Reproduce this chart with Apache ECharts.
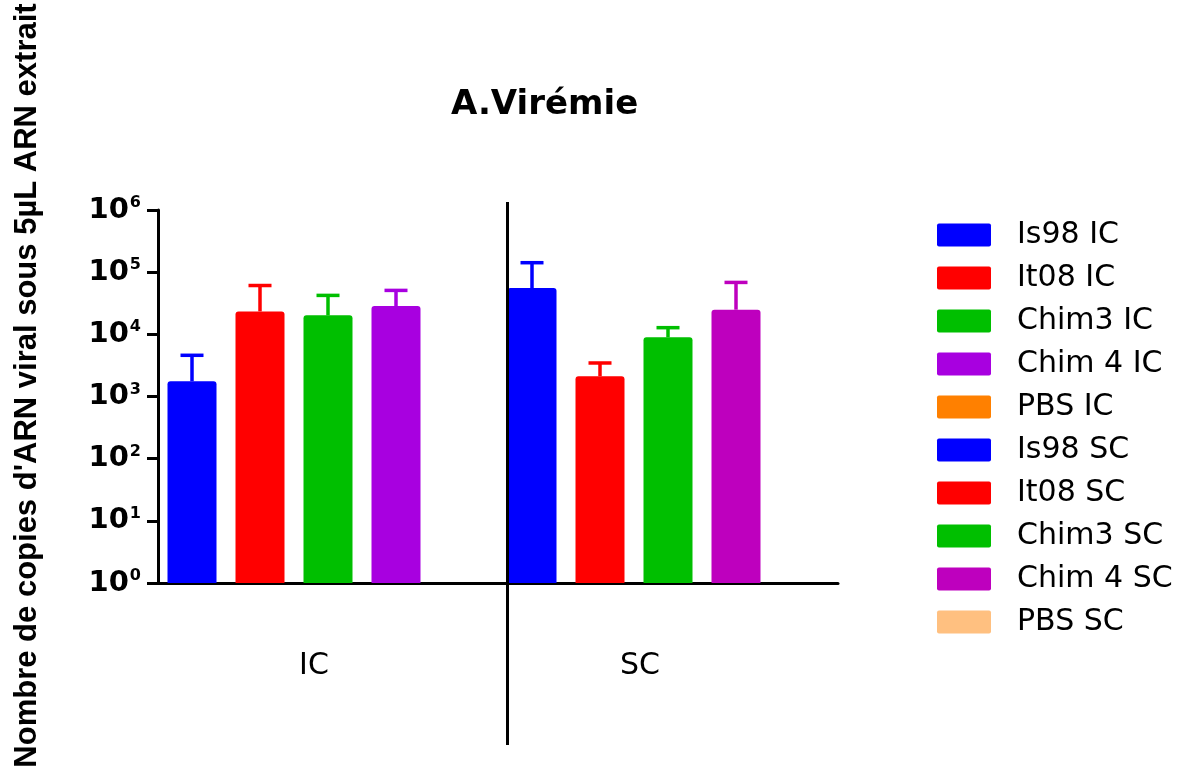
<!DOCTYPE html>
<html>
<head>
<meta charset="utf-8">
<script src="https://cdn.jsdelivr.net/npm/echarts@6/dist/echarts.min.js"></script>
<style>
html,body{margin:0;padding:0;background:#fff;}
#chart{width:1203px;height:771px;}
</style>
</head>
<body>
<div id="chart"></div>
<script>
const categories = ['Is98 IC','It08 IC','Chim3 IC','Chim 4 IC','PBS IC','Is98 SC','It08 SC','Chim3 SC','Chim 4 SC','PBS SC'];
const means = [1760, 23400, 20200, 28500, null, 55400, 2120, 8950, 24900, null];
const upper = [4600, 61000, 42300, 50900, null, 142000, 3460, 12800, 68400, null];
const colors = ['#0000FF','#FF0000','#00BF00','#A800E0','#FF8000','#0000FF','#FF0000','#00BF00','#BE00BE','#FFC080'];
const groupLabels = ['IC','SC'];
const yTicks = [0,1,2,3,4,5,6];

const chart = echarts.init(document.getElementById('chart'));

const barSeries = categories.map((name, i) => ({
  name: name,
  type: 'bar',
  barWidth: 49,
  barGap: '-100%',
  itemStyle: { color: colors[i], borderRadius: [3,3,0,0] },
  data: categories.map((c, j) => (j === i && means[i] != null) ? means[i] : '-'),
  z: 2
}));

const errData = [];
categories.forEach((c, i) => {
  if (means[i] != null) errData.push({ value: [c, means[i], upper[i]], itemStyle: { color: colors[i] } });
});

const errSeries = {
  type: 'custom',
  name: 'err',
  data: errData,
  z: 3,
  renderItem: function (params, api) {
    const base = api.coord([api.value(0), api.value(1)]);
    const top = api.coord([api.value(0), api.value(2)]);
    const col = api.visual('color');
    const half = 11.5;
    return {
      type: 'group',
      children: [
        { type: 'line', shape: { x1: base[0], y1: base[1], x2: base[0], y2: top[1] }, style: { stroke: col, lineWidth: 3.5 } },
        { type: 'line', shape: { x1: base[0] - half, y1: top[1], x2: base[0] + half, y2: top[1] }, style: { stroke: col, lineWidth: 3.5 } }
      ]
    };
  }
};

const option = {
  animation: false,
  backgroundColor: '#fff',
  title: {
    text: 'A.Virémie',
    left: 446,
    top: 83,
    textStyle: { fontFamily: 'DejaVu Sans', fontWeight: 'bold', fontSize: 34, color: '#000' }
  },
  legend: {
    orient: 'vertical',
    left: 937,
    top: 220,
    padding: 0,
    data: categories,
    icon: 'path://M2,0 L52,0 Q54,0 54,2 L54,21 Q54,23 52,23 L2,23 Q0,23 0,21 L0,2 Q0,0 2,0 Z',
    itemWidth: 54,
    itemHeight: 23,
    itemGap: 13,
    textStyle: { fontFamily: 'DejaVu Sans', fontSize: 30, color: '#000', lineHeight: 30, padding: [0,0,0,21] }
  },
  grid: { left: 158, right: 365, top: 210, bottom: 188, containLabel: false },
  xAxis: {
    type: 'category',
    data: categories,
    axisLine: { lineStyle: { color: '#000', width: 3 } },
    axisTick: { show: false },
    axisLabel: { show: false },
    splitLine: { show: false }
  },
  yAxis: {
    type: 'log',
    logBase: 10,
    min: 1,
    max: 1e6,
    name: "Nombre de copies d'ARN viral sous 5µL ARN extrait",
    nameLocation: 'middle',
    nameGap: 115,
    nameTextStyle: { fontFamily: 'Liberation Sans', fontWeight: 'bold', fontSize: 31, color: '#000', padding: [0,0,0,22] },
    axisLine: { show: true, lineStyle: { color: '#000', width: 3 } },
    axisTick: { show: true, length: 11, lineStyle: { color: '#000', width: 3 } },
    splitLine: { show: false },
    axisLabel: {
      margin: 17,
      formatter: function (v) {
        const e = Math.round(Math.log10(v));
        return yTicks.indexOf(e) >= 0 ? '{a|10}{b|' + e + '}' : '';
      },
      rich: {
        a: { fontFamily: 'DejaVu Sans', fontWeight: 'bold', fontSize: 29, color: '#000', lineHeight: 30 },
        b: { fontFamily: 'DejaVu Sans', fontWeight: 'bold', fontSize: 16, color: '#000', verticalAlign: 'top', lineHeight: 16, padding: [0,0,8,1] }
      }
    }
  },
  series: barSeries.concat([errSeries])
};

chart.setOption(option);

const xBar = chart.convertToPixel({ xAxisIndex: 0 }, categories[5]) - 24.5;
chart.setOption({
  graphic: [
    { type: 'line', shape: { x1: xBar, y1: 202, x2: xBar, y2: 745 }, style: { stroke: '#000', lineWidth: 3 }, z: 10 },
    { type: 'text', x: 314, y: 666, style: { text: groupLabels[0], fontFamily: 'DejaVu Sans', fontSize: 30, fill: '#000', align: 'center', verticalAlign: 'middle' } },
    { type: 'text', x: 640, y: 666, style: { text: groupLabels[1], fontFamily: 'DejaVu Sans', fontSize: 30, fill: '#000', align: 'center', verticalAlign: 'middle' } }
  ]
});
</script>
</body>
</html>
